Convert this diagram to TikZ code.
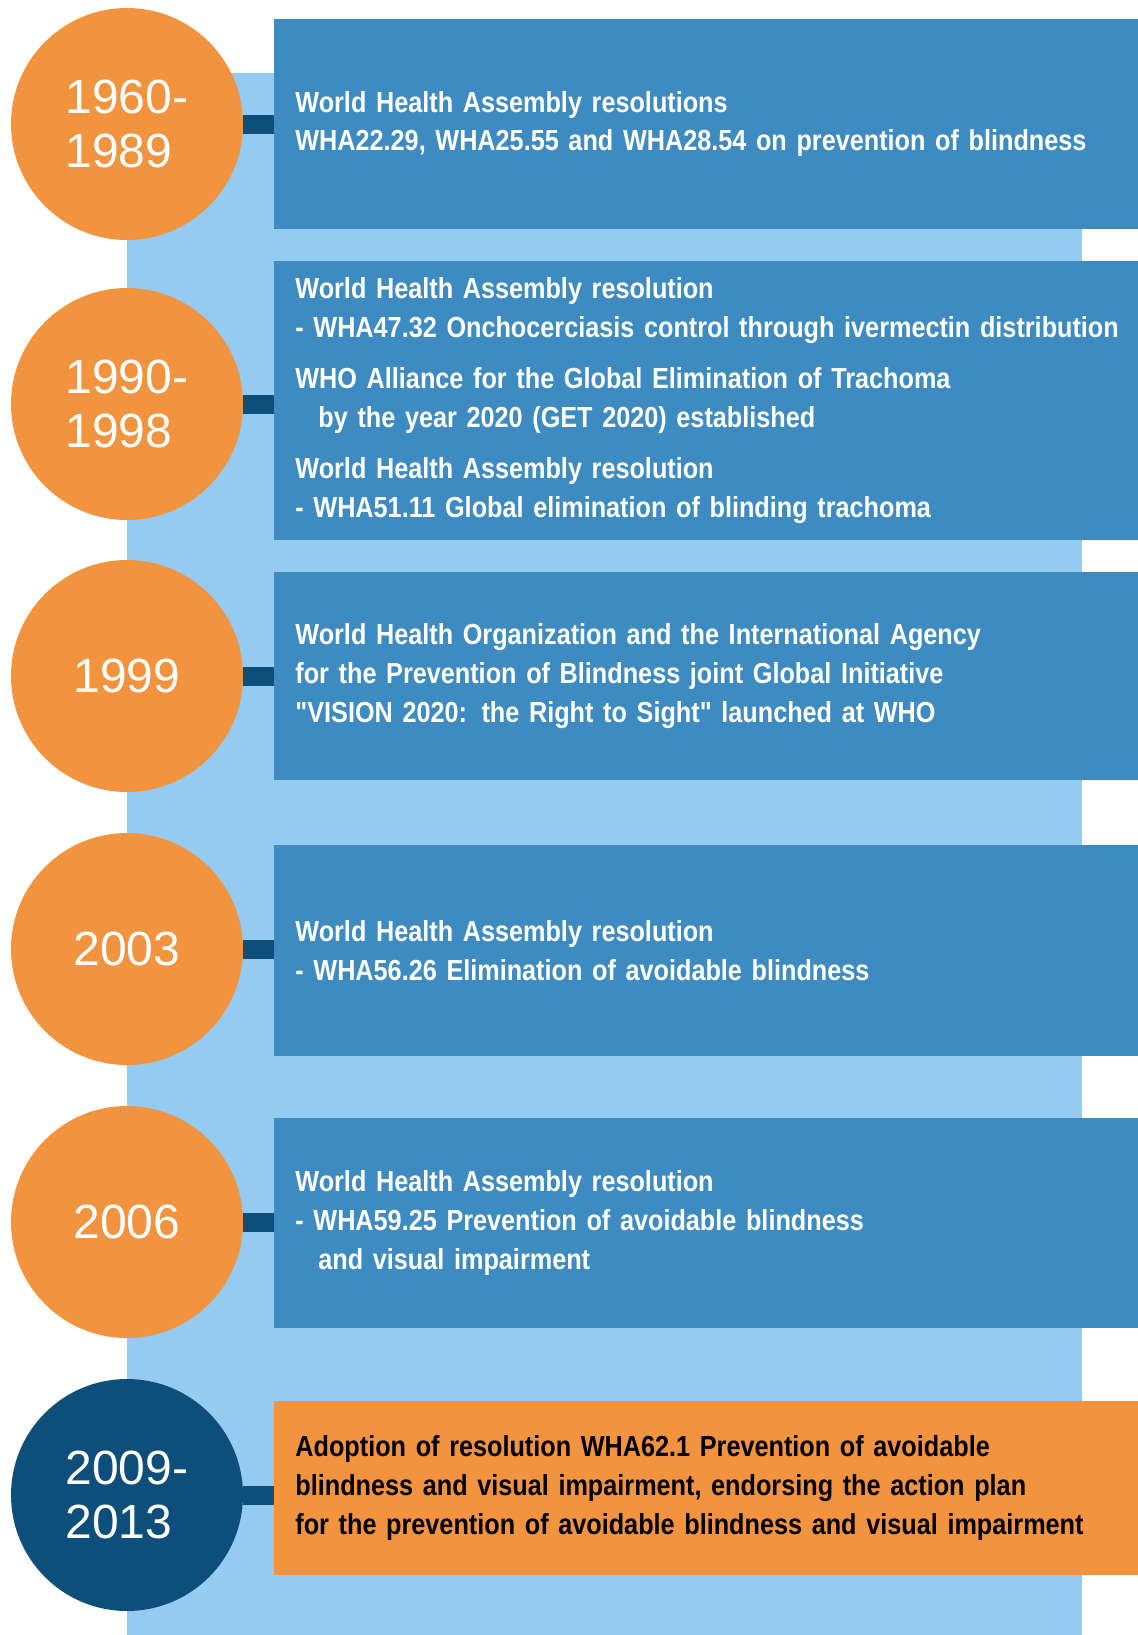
\documentclass[tikz,border=0pt]{standalone}
\usepackage{fontspec}
\setmainfont{Liberation Sans}
\newfontfamily\condfont[FakeStretch=0.87]{Liberation Sans}
\definecolor{orng}{HTML}{F29340}
\definecolor{boxblue}{HTML}{3D8BC0}
\definecolor{bandblue}{HTML}{95CBF0}
\definecolor{navy}{HTML}{0E4E7B}
\begin{document}
\begin{tikzpicture}[x=0.5pt,y=-0.5pt,
  yearcirc/.style={circle, fill=orng, minimum size=116pt, inner sep=0pt, text=white,
    font=\fontsize{24}{27}\selectfont, align=left},
  evbox/.style={fill=boxblue, anchor=west, text width=425pt, inner xsep=10.5pt, inner ysep=0pt,
    align=left, text=white, font=\condfont\bfseries\fontsize{14.5}{19.3}\selectfont},
  conn/.style={draw=navy, line width=9.5pt}]
\useasboundingbox (0,0) rectangle (1137,1635);
\fill[bandblue] (127,73) rectangle (1082,1635);
% circles
\node[yearcirc] (c1) at (127,124) {1960-\\1989};
\node[yearcirc] (c2) at (127,404) {1990-\\1998};
\node[yearcirc] (c3) at (127,676) {1999};
\node[yearcirc] (c4) at (127,949) {2003};
\node[yearcirc] (c5) at (127,1222) {2006};
\node[yearcirc, fill=navy] (c6) at (127,1495) {2009-\\2013};
% boxes
\node[evbox, minimum height=105pt] (b1) at (274,124)
  {World Health Assembly resolutions\\WHA22.29, WHA25.55 and WHA28.54 on prevention of blindness};
\node[evbox, minimum height=139.5pt] (b2) at (274,400.5)
  {World Health Assembly resolution\\- WHA47.32 Onchocerciasis control through ivermectin distribution\\[6.5pt]
   WHO Alliance for the Global Elimination of Trachoma\\\hspace*{11.5pt}by the year 2020 (GET 2020) established\\[6.5pt]
   World Health Assembly resolution\\- WHA51.11 Global elimination of blinding trachoma};
\node[evbox, minimum height=104pt] (b3) at (274,676)
  {World Health Organization and the International Agency\\for the Prevention of Blindness joint Global Initiative\\"VISION 2020: the Right to Sight" launched at WHO};
\node[evbox, minimum height=105.5pt] (b4) at (274,950.5)
  {World Health Assembly resolution\\- WHA56.26 Elimination of avoidable blindness};
\node[evbox, minimum height=105pt] (b5) at (274,1223)
  {World Health Assembly resolution\\- WHA59.25 Prevention of avoidable blindness\\\hspace*{11.5pt}and visual impairment};
\node[evbox, minimum height=87pt, fill=orng, text=black] (b6) at (274,1488)
  {Adoption of resolution WHA62.1 Prevention of avoidable\\blindness and visual impairment, endorsing the action plan\\for the prevention of avoidable blindness and visual impairment};
% connectors
\foreach \i in {1,...,6} {
  \draw[conn] (c\i.east) -- (c\i.east -| b\i.west);
}
\end{tikzpicture}
\end{document}
